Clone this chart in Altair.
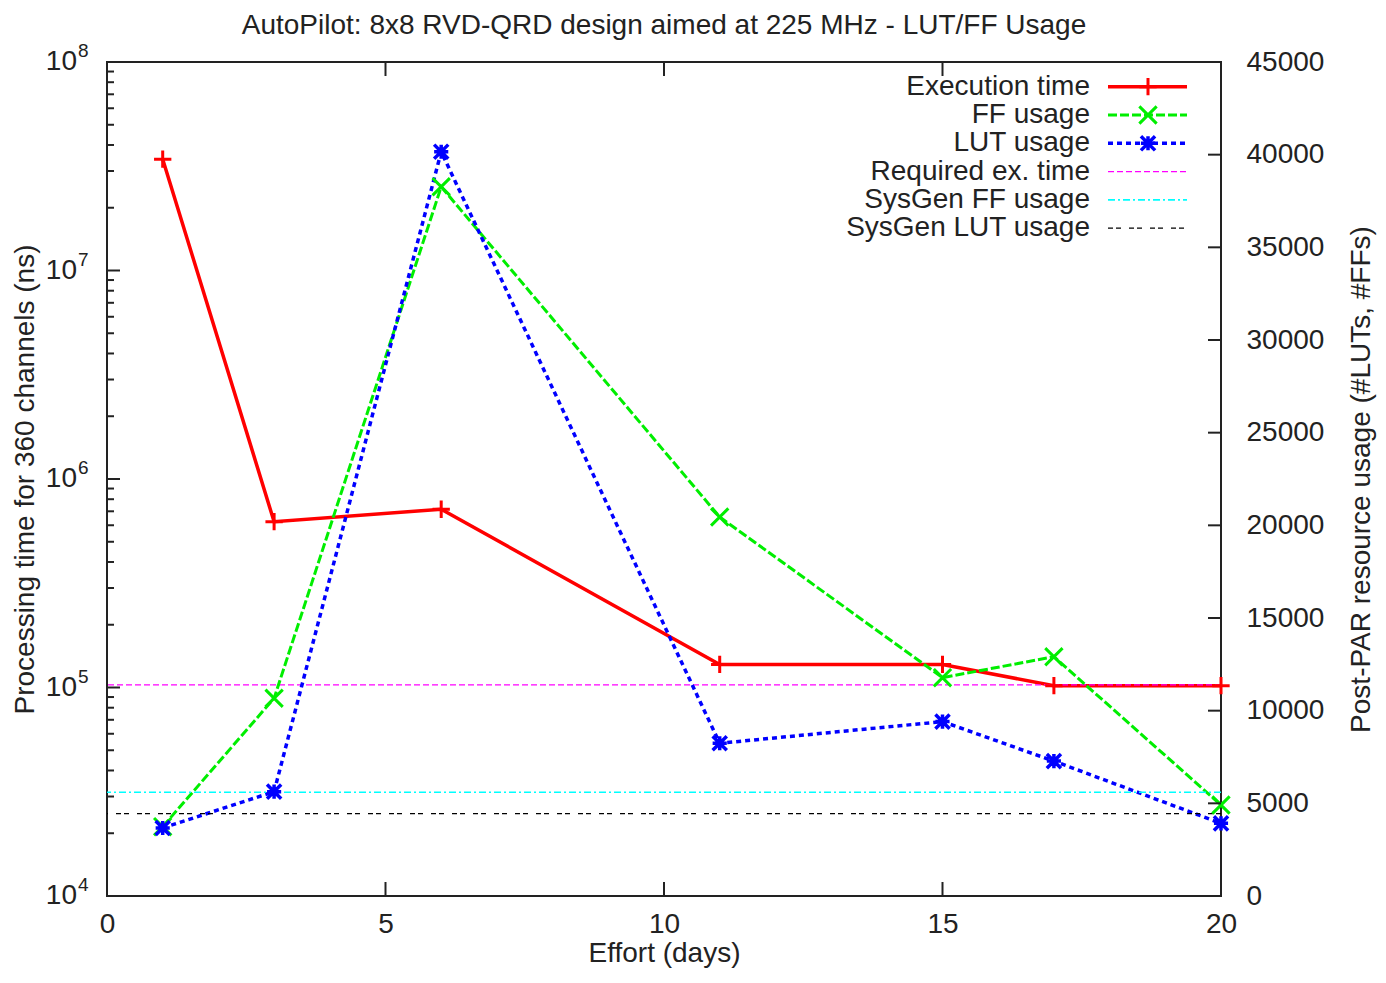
import altair as alt
import pandas as pd

# ---------------- data ----------------
days = [1, 3, 6, 11, 15, 17, 20]
exec_time_ns = [3.42e7, 6.24e5, 7.16e5, 1.29e5, 1.29e5, 1.02e5, 1.02e5]
ff_usage = [3740, 10670, 38270, 20450, 11780, 12910, 4910]
lut_usage = [3670, 5630, 40160, 8240, 9410, 7280, 3920]
required_ns = [1.03e5]
sysgen_ff = [5600]
sysgen_lut = [4450]

x_ticks = [0, 5, 10, 15, 20]
x_inner_ticks = [5, 10, 15]
left_exponents = [4, 5, 6, 7, 8]
left_major_inner = [1e5, 1e6, 1e7]
left_minor = [m * 10 ** e for e in range(4, 8) for m in range(2, 10)]
right_ticks = list(range(0, 45001, 5000))
right_inner_ticks = list(range(5000, 40001, 5000))

title_text = "AutoPilot: 8x8 RVD-QRD design aimed at 225 MHz - LUT/FF Usage"
legend_labels = ["Execution time", "FF usage", "LUT usage",
                 "Required ex. time", "SysGen FF usage", "SysGen LUT usage"]

# ---------------- styles ----------------
W, H = 1114, 834
FONT = "Liberation Sans"
RED, GREEN, BLUE = "#ff0000", "#00ee00", "#0000ff"
MAGENTA, CYAN, BLACK = "#ff00ff", "#00ffff", "#000000"
PLUS = "M-1,0L1,0M0,-1L0,1"
XSHAPE = "M-1,-1L1,1M-1,1L1,-1"
STAR = "M-1,0L1,0M0,-1L0,1M-1,-1L1,1M-1,1L1,-1"

main_df = pd.DataFrame({"day": days, "exec": exec_time_ns,
                        "ff": ff_usage, "lut": lut_usage})

x_axis = alt.Axis(values=x_ticks, labelFontSize=28, labelPadding=14, ticks=False,
                  domain=False, grid=False, labelFlush=False, title="Effort (days)",
                  titleFontSize=28, titleFontWeight="normal", titleX=W / 2, titleY=57,
                  titleBaseline="middle", labelColor="#222", titleColor="#222")
x_scale = alt.Scale(domain=[0, 20], nice=False, zero=False)


def X(field):
    return alt.X(field, type="quantitative", scale=x_scale, axis=x_axis)


left_scale = alt.Scale(type="log", domain=[1e4, 1e8], nice=False)
left_axis = alt.Axis(labels=False, ticks=False, domain=False, grid=False,
                     title="Processing time for 360 channels (ns)", titleFontSize=28,
                     titleFontWeight="normal", titleAngle=270, titleX=-82, titleY=H / 2,
                     titleBaseline="middle", titleAlign="center", titleColor="#222")


def YL(field):
    return alt.Y(field, type="quantitative", scale=left_scale, axis=left_axis)


right_scale = alt.Scale(domain=[0, 45000], nice=False, zero=True)
right_axis = alt.Axis(orient="right", values=right_ticks, format="d", labelFontSize=28,
                      labelPadding=25, ticks=False, tickSize=0, domain=False, grid=False,
                      labelAlign="left", labelColor="#222",
                      title="Post-PAR resource usage (#LUTs, #FFs)",
                      titleFontSize=28, titleFontWeight="normal", titleAngle=270,
                      titleX=140, titleY=H / 2, titleBaseline="middle", titleAlign="center",
                      titleColor="#222")


def YR(field):
    return alt.Y(field, type="quantitative", scale=right_scale, axis=right_axis)


# ---------------- left (log) group ----------------
red_line = alt.Chart(main_df).mark_line(color=RED, strokeWidth=3.5).encode(
    x=X("day"), y=YL("exec"))
red_pts = alt.Chart(main_df).mark_point(shape=PLUS, size=300, color=RED, strokeWidth=3,
                                        filled=False, opacity=1).encode(x=X("day"), y=YL("exec"))
req_rule = alt.Chart(pd.DataFrame({"req": required_ns})).mark_rule(
    color=MAGENTA, strokeWidth=1.3, strokeDash=[6, 3]).encode(y=YL("req"))

lab_df = pd.DataFrame({"v": [10.0 ** e for e in left_exponents],
                       "base": ["10"] * len(left_exponents),
                       "ex": [str(e) for e in left_exponents]})
left_base = alt.Chart(lab_df).mark_text(align="right", baseline="middle", fontSize=28,
                                        color="#222").encode(
    x=alt.value(-30), y=YL("v"), text="base:N")
left_exp = alt.Chart(lab_df).mark_text(align="left", baseline="middle", fontSize=19,
                                       dy=-11, color="#222").encode(
    x=alt.value(-29), y=YL("v"), text="ex:N")

lmaj = alt.Chart(pd.DataFrame({"v": left_major_inner})).mark_rule(
    color="#222", strokeWidth=2).encode(x=alt.value(0), x2=alt.value(13), y=YL("v"))
lmin = alt.Chart(pd.DataFrame({"v": left_minor})).mark_rule(
    color="#222", strokeWidth=2).encode(x=alt.value(0), x2=alt.value(7), y=YL("v"))

xt_df = pd.DataFrame({"d": x_inner_ticks})
xt_bot = alt.Chart(xt_df).mark_rule(color="#222", strokeWidth=2).encode(
    x=X("d"), y=alt.value(H), y2=alt.value(H - 14))
xt_top = alt.Chart(xt_df).mark_rule(color="#222", strokeWidth=2).encode(
    x=X("d"), y=alt.value(0), y2=alt.value(14))

left_group = alt.layer(red_line, req_rule, red_pts, left_base, left_exp, lmaj, lmin,
                       xt_bot, xt_top)

# ---------------- right (linear) group ----------------
green_line = alt.Chart(main_df).mark_line(color=GREEN, strokeWidth=3,
                                          strokeDash=[9, 3]).encode(x=X("day"), y=YR("ff"))
green_pts = alt.Chart(main_df).mark_point(shape=XSHAPE, size=300, color=GREEN, strokeWidth=3,
                                          filled=False, opacity=1).encode(x=X("day"), y=YR("ff"))
blue_line = alt.Chart(main_df).mark_line(color=BLUE, strokeWidth=3.5,
                                         strokeDash=[5, 4]).encode(x=X("day"), y=YR("lut"))
blue_pts = alt.Chart(main_df).mark_point(shape=STAR, size=200, color=BLUE, strokeWidth=3.5,
                                         filled=False, opacity=1).encode(x=X("day"), y=YR("lut"))
cyan_rule = alt.Chart(pd.DataFrame({"s": sysgen_ff})).mark_rule(
    color=CYAN, strokeWidth=1.6, strokeDash=[7, 3, 2, 3]).encode(y=YR("s"))
black_rule = alt.Chart(pd.DataFrame({"s": sysgen_lut})).mark_rule(
    color=BLACK, strokeWidth=1.3, strokeDash=[5, 3, 5, 8]).encode(y=YR("s"))
rtick = alt.Chart(pd.DataFrame({"s": right_inner_ticks})).mark_rule(
    color="#222", strokeWidth=2).encode(x=alt.value(W - 13), x2=alt.value(W), y=YR("s"))

right_group = alt.layer(green_line, blue_line, cyan_rule, black_rule, green_pts, blue_pts, rtick)

# ---------------- legend & title ----------------
row_y = [24.7 + 28.3 * i for i in range(6)]
leg_styles = [
    dict(color=RED, strokeWidth=3.5),
    dict(color=GREEN, strokeWidth=3, strokeDash=[9, 3]),
    dict(color=BLUE, strokeWidth=3.5, strokeDash=[5, 4]),
    dict(color=MAGENTA, strokeWidth=1.3, strokeDash=[6, 3]),
    dict(color=CYAN, strokeWidth=1.6, strokeDash=[7, 3, 2, 3]),
    dict(color=BLACK, strokeWidth=1.3, strokeDash=[5, 3, 5, 8]),
]
leg_marks = [(PLUS, RED, 300, 3), (XSHAPE, GREEN, 300, 3), (STAR, BLUE, 200, 3.5)]
legend_layers = []
for i, lab in enumerate(legend_labels):
    d = pd.DataFrame({"label": [lab]})
    legend_layers.append(alt.Chart(d).mark_text(align="right", baseline="middle", fontSize=28,
                                                color="#222").encode(
        x=alt.value(983), y=alt.value(row_y[i]), text="label:N"))
    legend_layers.append(alt.Chart(d).mark_rule(**leg_styles[i]).encode(
        x=alt.value(1001), x2=alt.value(1080), y=alt.value(row_y[i])))
    if i < 3:
        shp, col, sz, sw = leg_marks[i]
        legend_layers.append(alt.Chart(d).mark_point(shape=shp, size=sz, color=col,
                                                     strokeWidth=sw, filled=False,
                                                     opacity=1).encode(
            x=alt.value(1041), y=alt.value(row_y[i])))

title_layer = alt.Chart(pd.DataFrame({"t": [title_text]})).mark_text(
    align="center", baseline="middle", fontSize=28, color="#222").encode(
    x=alt.value(W / 2), y=alt.value(-36), text="t:N")

chart = alt.layer(left_group, right_group, *legend_layers, title_layer).resolve_scale(
    y="independent"
).properties(
    width=W, height=H,
    autosize=alt.AutoSizeParams(type="none"),
    padding={"left": 99, "top": 54, "right": 157, "bottom": 74},
).configure_view(
    stroke="#222", strokeWidth=2
).configure_axis(
    labelFont=FONT, titleFont=FONT
).configure_text(
    font=FONT
)

chart.save("out.html", embed_options={"renderer": "svg", "actions": False})
